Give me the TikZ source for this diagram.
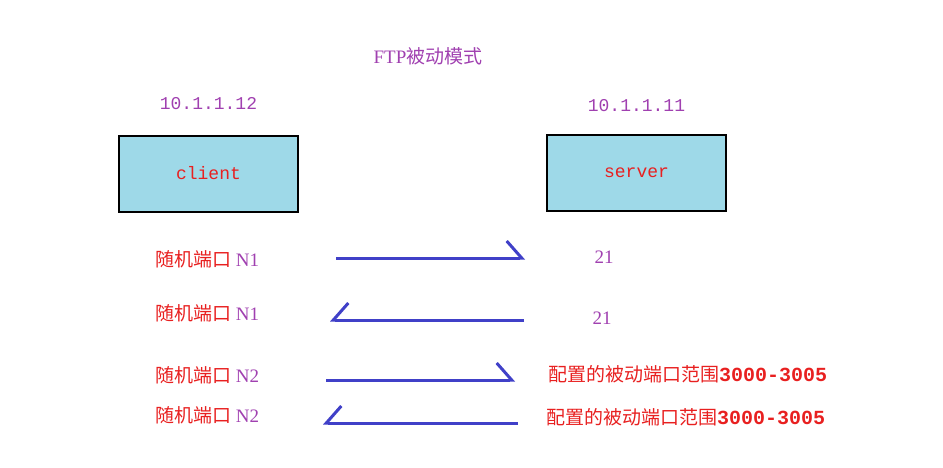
\documentclass[tikz,border=0pt]{standalone}
\usepackage{fontspec}
\setmainfont{Liberation Serif}
\setmonofont{Liberation Mono}
\newfontfamily\cjk{Noto Sans CJK SC}
\usetikzlibrary{positioning,arrows.meta}
\definecolor{boxblue}{HTML}{9ED9E8}
\definecolor{labelpurple}{HTML}{A040B0}
\definecolor{portred}{HTML}{E82020}
\definecolor{arrowblue}{HTML}{4040C8}

\begin{document}
\begin{tikzpicture}[x=1pt,y=-1pt]
	\tikzstyle{host}=[draw,line width=1.2pt,fill=boxblue,minimum width=179pt,minimum height=76pt,text=portred,font=\fontsize{18}{20}\selectfont\ttfamily]
	\tikzstyle{ipaddr}=[text=labelpurple,font=\fontsize{18}{20}\selectfont\ttfamily]
	\tikzstyle{port}=[anchor=west,inner sep=0pt,text=portred,font=\fontsize{19}{21}\selectfont]
	\tikzstyle{portnum}=[text=labelpurple,inner sep=0pt,font=\fontsize{19}{21}\selectfont]
	\tikzstyle{msg}=[draw=arrowblue,line width=3pt]
	\tikzstyle{tohead}=[-{Straight Barb[left,length=15pt,width=34pt]}]
	\tikzstyle{backhead}=[-{Straight Barb[right,length=15pt,width=34pt]}]

	\useasboundingbox (0,0) rectangle (943,468);

	\node[text=labelpurple,font=\fontsize{19}{21}\selectfont](title) at (428,56){FTP{\cjk 被动模式}};

	\node[host](client) at (208.5,174){\raisebox{2pt}{client}};
	\node[host](server) at (636.5,173){server};
	\node[ipaddr,above=22pt of client](client_ip){10.1.1.12};
	\node[ipaddr,above=19pt of server](server_ip){10.1.1.11};

	% control connection
	\node[port](random_a) at (155,259){{\cjk 随机端口} \textcolor{labelpurple}{N1}};
	\node[portnum](ctrl_a) at (604,257){21};
	\node[port](random_b) at (155,313){{\cjk 随机端口} \textcolor{labelpurple}{N1}};
	\node[portnum](ctrl_b) at (602,318){21};

	% data connection
	\node[port](random_c) at (155,375){{\cjk 随机端口} \textcolor{labelpurple}{N2}};
	\node[port](passive_c) at (548,374){{\cjk 配置的被动端口范围}{\fontsize{20}{22}\selectfont\ttfamily\bfseries 3000-3005}};
	\node[port](random_d) at (155,415){{\cjk 随机端口} \textcolor{labelpurple}{N2}};
	\node[port](passive_d) at (546,417){{\cjk 配置的被动端口范围}{\fontsize{20}{22}\selectfont\ttfamily\bfseries 3000-3005}};

	\coordinate (req_a_start) at (336,258);
	\coordinate (req_a_end) at (525,258);
	\coordinate (rep_b_start) at (524,320);
	\coordinate (rep_b_end) at (330,320);
	\coordinate (req_c_start) at (326,380);
	\coordinate (req_c_end) at (515,380);
	\coordinate (rep_d_start) at (518,423);
	\coordinate (rep_d_end) at (323,423);

	\draw[msg,tohead](req_a_start) -- (req_a_end);
	\draw[msg,backhead](rep_b_start) -- (rep_b_end);
	\draw[msg,tohead](req_c_start) -- (req_c_end);
	\draw[msg,backhead](rep_d_start) -- (rep_d_end);
\end{tikzpicture}
\end{document}
